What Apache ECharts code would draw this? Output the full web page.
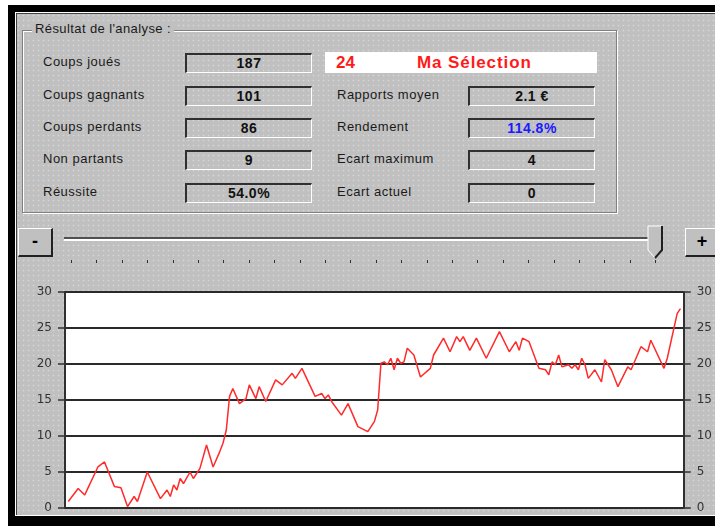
<!DOCTYPE html>
<html lang="fr">
<head>
<meta charset="UTF-8">
<title>Résultat de l'analyse</title>
<script src="https://cdn.jsdelivr.net/npm/echarts@6/dist/echarts.min.js"></script>
<style>
    body { margin:0; width:715px; height:526px; overflow:hidden; background:#fff; position:relative;
           font-family:"Liberation Sans", Arial, sans-serif; }
    .abs { position:absolute; }
    #outer { left:8px; top:5px; width:720px; height:521px; background:#000; }
    #panel { left:15px; top:12px; width:720px; height:502px; background-color:#c0c0c0;
             background-image:radial-gradient(circle, #d6d6d6 0.7px, transparent 1.1px);
             background-size:5px 5px;
             border-top:1px solid #fff; border-left:1px solid #fff; border-bottom:1px solid #fff;
             box-shadow: inset 1px 1px 0 #404040; }
    #group { left:22px; top:30px; width:593px; height:181px; border:1px solid #808080;
             box-shadow: 1px 1px 0 #fff, inset 1px 1px 0 #fff; }
    #groupTitle { left:32px; top:21px; font-size:13px; letter-spacing:0.4px; color:#1a1a1a;
                  background:#c0c0c0; padding:0 3px; }
    .lbl { font-size:13px; letter-spacing:0.5px; color:#1a1a1a; }
    .box { width:124px; height:17px; border-top:2px solid #303030; border-left:2px solid #303030;
           border-bottom:1px solid #fff; border-right:1px solid #fff;
           font-size:14px; font-weight:bold; letter-spacing:0.5px; text-align:center; line-height:17px; color:#111; }
    #sel { left:325px; top:52px; width:272px; height:21px; background:#fff; color:#ff1a1a;
           font-weight:bold; font-size:17px; line-height:21px; }
    .btn { width:32px; height:26px; background:#c0c0c0; border-top:1px solid #fff; border-left:1px solid #fff;
           border-right:2px solid #202020; border-bottom:2px solid #202020; font-weight:bold; font-size:18px;
           text-align:center; line-height:24px; color:#000; }
    #groove { left:64px; top:237px; width:593px; height:2px; background:#505050; border-bottom:2px solid #fff; }
    .tick { width:1px; height:3px; background:#303030; top:260px; }
    #chart { left:0; top:266px; width:715px; height:260px; }
</style>
</head>
<body>
<div id="outer" class="abs"></div>
<div id="panel" class="abs"></div>
<div id="group" class="abs"></div>
<div id="groupTitle" class="abs">Résultat de l'analyse :</div>

<div class="abs lbl" style="left:43px;top:54px">Coups joués</div>
<div class="abs lbl" style="left:43px;top:87px">Coups gagnants</div>
<div class="abs lbl" style="left:43px;top:119px">Coups perdants</div>
<div class="abs lbl" style="left:43px;top:151px">Non partants</div>
<div class="abs lbl" style="left:43px;top:184px">Réussite</div>

<div class="abs box" style="left:185px;top:53px">187</div>
<div class="abs box" style="left:185px;top:86px">101</div>
<div class="abs box" style="left:185px;top:118px">86</div>
<div class="abs box" style="left:185px;top:150px">9</div>
<div class="abs box" style="left:185px;top:183px">54.0%</div>

<div id="sel" class="abs"><span style="position:absolute;left:11px">24</span><span style="position:absolute;left:92px;letter-spacing:0.9px">Ma Sélection</span></div>

<div class="abs lbl" style="left:337px;top:87px">Rapports moyen</div>
<div class="abs lbl" style="left:337px;top:119px">Rendement</div>
<div class="abs lbl" style="left:337px;top:151px">Ecart maximum</div>
<div class="abs lbl" style="left:337px;top:184px">Ecart actuel</div>

<div class="abs box" style="left:468px;top:86px">2.1 €</div>
<div class="abs box" style="left:468px;top:118px;color:#1a1aff">114.8%</div>
<div class="abs box" style="left:468px;top:150px">4</div>
<div class="abs box" style="left:468px;top:183px">0</div>

<div class="abs btn" style="left:18px;top:228px">-</div>
<div class="abs btn" style="left:685px;top:228px">+</div>
<div id="groove" class="abs"></div>
<div id="ticks"></div>
<svg class="abs" style="left:647px;top:225px" width="18" height="36">
    <polygon points="1,1 15,1 15,25 8,33 1,25" fill="#c0c0c0" stroke="#fff" stroke-width="1"/>
    <polyline points="15,1 15,25 8,33" fill="none" stroke="#202020" stroke-width="2"/>
</svg>

<div id="chart" class="abs"></div>

<script>
// coup number and cumulative result
var coups = [1,4,6,7,10,12,15,17,19,21,22,25,29,31,32,33,34,35,36,38,39,41,43,45,47,48,49,50,51,53,
    55,56,58,59,61,64,66,69,70,72,76,78,79,80,81,84,86,89,92,94,95,96,97,98,99,100,101,102,103,104,
    106,108,111,112,115,117,119,120,121,123,125,128,132,135,137,138,139,141,144,146,147,148,149,150,151,
    153,154,155,156,157,158,159,161,163,164,166,168,171,172,175,177,178,182,183,186,187];
var gains = [0.9,2.7,1.8,2.8,5.7,6.4,3.0,2.8,0.2,1.6,0.9,5.0,1.3,2.5,1.6,3.2,2.5,4.1,3.4,5.0,
    4.1,5.5,8.75,5.7,7.8,9.0,10.8,15.5,16.6,14.5,15.2,17.1,15.2,16.85,14.8,17.8,17.1,18.7,18.0,19.4,
    15.5,15.9,15.2,15.7,14.8,12.9,14.5,11.3,10.6,12.0,13.6,20.1,20.3,19.9,20.8,19.2,20.8,20.1,20.3,22.2,
    21.25,18.2,19.4,21.25,23.6,21.7,23.8,23.1,23.8,21.9,23.6,20.8,24.5,21.7,23.1,21.9,23.6,23.1,19.4,19.2,
    18.5,20.3,19.9,21.25,19.6,19.9,19.4,19.9,19.2,20.8,19.9,18.0,19.2,17.5,20.6,19.2,16.85,19.6,19.2,22.4,
    21.7,23.3,19.4,20.8,27.0,27.7];
var yTicks = [0, 30, 5];

// slider ticks
var t = document.getElementById('ticks');
for (var i = 0; i < 24; i++) {
    var d = document.createElement('div');
    d.className = 'abs tick';
    d.style.left = (71 + i * 25.4).toFixed(0) + 'px';
    t.appendChild(d);
}

var myChart = echarts.init(document.getElementById('chart'));
var axisY = function (pos) {
    return {
        type: 'value', position: pos, min: yTicks[0], max: yTicks[1], interval: yTicks[2],
        axisLine: { show: true, lineStyle: { color: '#303030', width: 2 } },
        axisTick: { show: true, length: 7, lineStyle: { color: '#303030', width: 1.5 } },
        axisLabel: { color: '#333', fontSize: 12, margin: 13, fontFamily: 'DejaVu Sans' },
        splitLine: { show: pos === 'left', lineStyle: { color: '#2a2a2a', width: 2 } }
    };
};
var option = {
    animation: false,
    grid: { left: 65, right: 30, top: 26, bottom: 18, show: true, backgroundColor: '#fff', borderWidth: 0 },
    xAxis: { type: 'value', min: 0, max: 188, show: false },
    yAxis: [axisY('left'), axisY('right')],
    series: [{
        type: 'line',
        data: coups.map(function (c, i) { return [c, gains[i]]; }),
        showSymbol: false,
        lineStyle: { color: '#ff2a2a', width: 1.5 }
    }]
};
myChart.setOption(option);
</script>
</body>
</html>
